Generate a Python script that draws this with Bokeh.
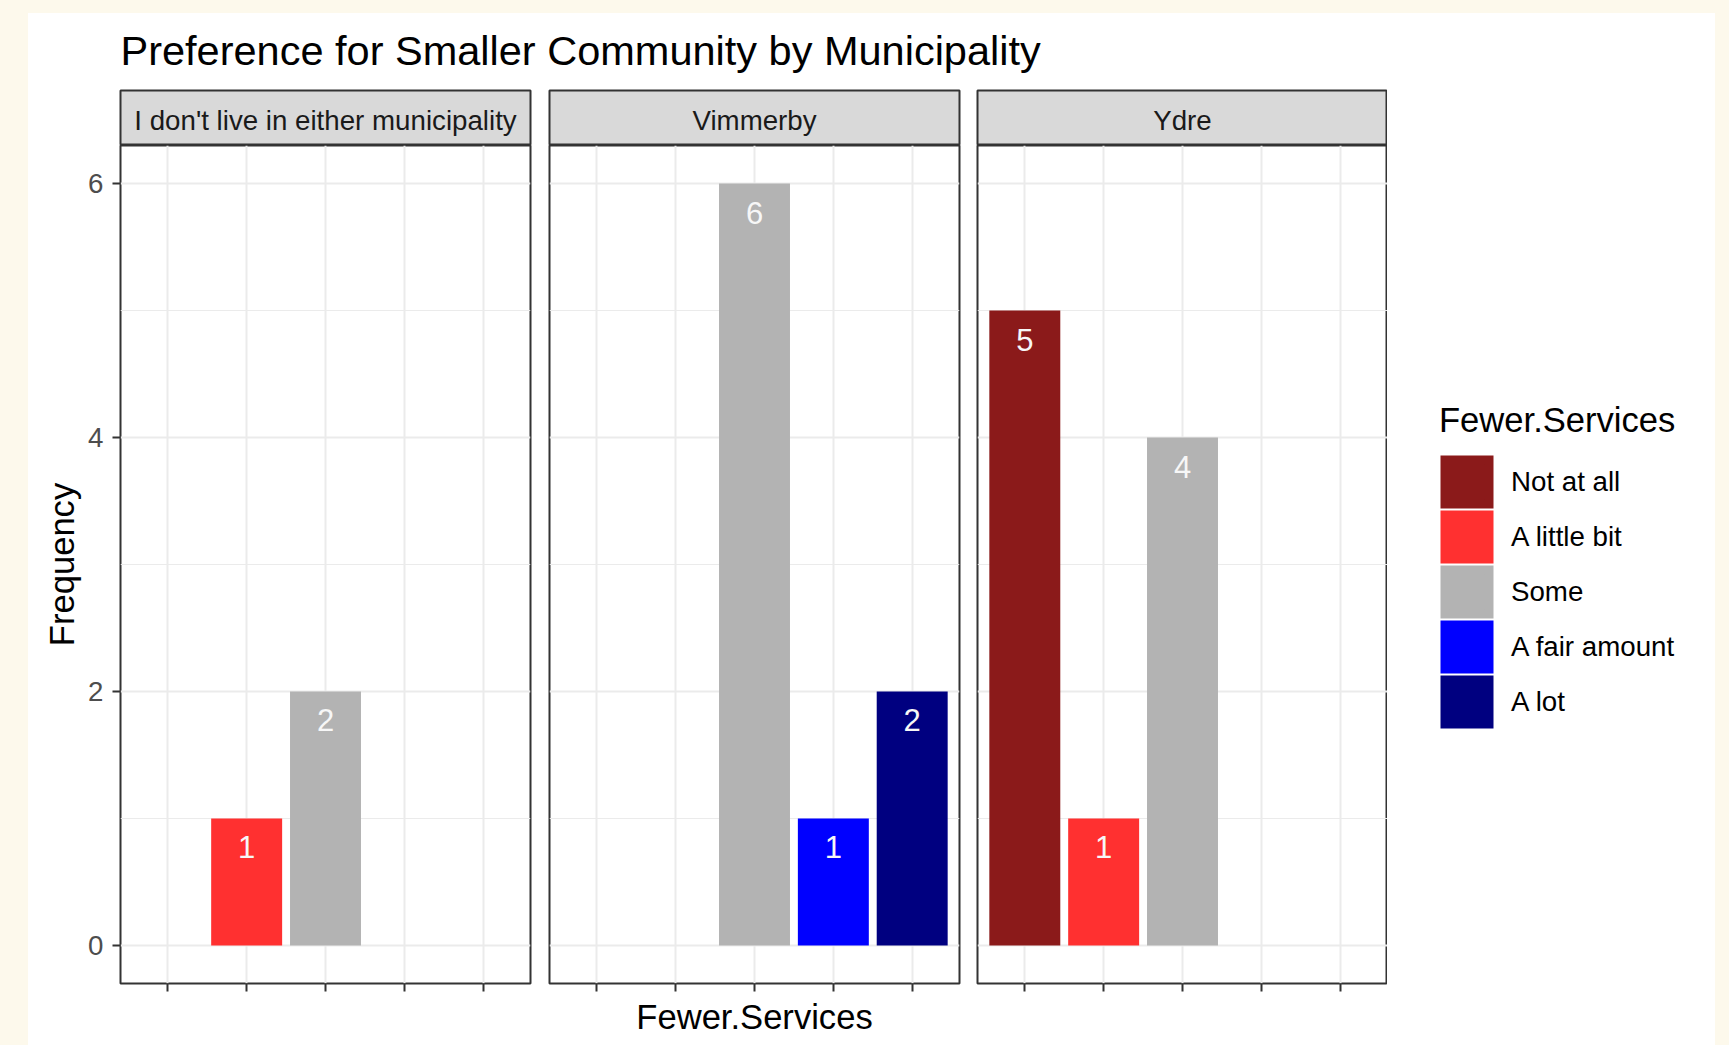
from bokeh.plotting import figure
from bokeh.models import (ColumnDataSource, Range1d, FixedTicker, Grid, Label,
                          Legend, LegendItem, Spacer)
from bokeh.layouts import row, column
from bokeh.embed import file_html
from bokeh.resources import INLINE
from bokeh.core.properties import value

# ---------------- data ----------------
categories = ["Not at all", "A little bit", "Some", "A fair amount", "A lot"]
category_colors = ["#8B1A1A", "#FF3030", "#B3B3B3", "#0000FF", "#000080"]
municipalities = ["I don't live in either municipality", "Vimmerby", "Ydre"]
counts_none = [0, 1, 2, 0, 0]
counts_vimmerby = [0, 0, 6, 1, 2]
counts_ydre = [5, 1, 4, 0, 0]
panel_counts = [counts_none, counts_vimmerby, counts_ydre]
y_ticks = [0, 2, 4, 6]
y_minor_ticks = [1, 3, 5]

title_text = "Preference for Smaller Community by Municipality"
x_title = "Fewer.Services"
y_title = "Frequency"
legend_title = "Fewer.Services"

# ---------------- style ----------------
FONT = "Liberation Sans"
CREAM = "#fdf9ec"
FRAME_W = 410
FRAME_H = 838
STRIP_H = 55
BOTTOM = 62
BORDERS = [(92, 9), (10, 9), (9, 0)]
GRID = "#ebebeb"
DARK = "#333333"


def make_strip(i):
    left, right = BORDERS[i]
    s = figure(frame_width=FRAME_W, frame_height=STRIP_H,
               min_border_left=left, min_border_right=right,
               min_border_top=1, min_border_bottom=0,
               x_range=Range1d(0, 1), y_range=Range1d(0, 1),
               x_axis_location=None, y_axis_location=None,
               toolbar_location=None, output_backend="svg")
    s.center = []
    s.background_fill_color = "#d9d9d9"
    s.border_fill_color = "white"
    s.outline_line_color = DARK
    s.outline_line_width = 2
    s.add_layout(Label(x=0.5, y=25, x_units="data", y_units="screen",
                       text=municipalities[i], text_font=FONT,
                       text_font_size="27.7px", text_color="#1a1a1a",
                       text_align="center", text_baseline="alphabetic"))
    return s


def make_panel(i):
    left, right = BORDERS[i]
    p = figure(frame_width=FRAME_W, frame_height=FRAME_H,
               min_border_left=left, min_border_right=right,
               min_border_top=0, min_border_bottom=BOTTOM,
               x_range=Range1d(0.4, len(categories) + 0.6),
               y_range=Range1d(-0.3, 6.3),
               x_axis_location="below",
               y_axis_location="left" if i == 0 else None,
               toolbar_location=None, output_backend="svg")
    p.center = []
    p.background_fill_color = "white"
    p.border_fill_color = "white"
    p.outline_line_color = DARK
    p.outline_line_width = 2

    cat_pos = list(range(1, len(categories) + 1))
    p.add_layout(Grid(dimension=0, ticker=FixedTicker(ticks=cat_pos),
                      grid_line_color=GRID, grid_line_width=2))
    p.add_layout(Grid(dimension=1,
                      ticker=FixedTicker(ticks=y_ticks, minor_ticks=y_minor_ticks),
                      grid_line_color=GRID, grid_line_width=2,
                      minor_grid_line_color=GRID, minor_grid_line_width=1))

    xa = p.xaxis[0]
    xa.ticker = FixedTicker(ticks=cat_pos)
    xa.axis_line_color = None
    xa.major_tick_line_color = DARK
    xa.major_tick_line_width = 2
    xa.major_tick_out = 8
    xa.major_tick_in = 0
    xa.minor_tick_line_color = None
    xa.major_label_text_color = None
    xa.major_label_text_font_size = "1px"
    xa.major_label_standoff = 0
    if i == 1:
        xa.axis_label = x_title
        xa.axis_label_text_font = FONT
        xa.axis_label_text_font_size = "34.6px"
        xa.axis_label_text_font_style = "normal"
        xa.axis_label_text_color = "black"
        xa.axis_label_standoff = 6

    if i == 0:
        ya = p.yaxis[0]
        ya.ticker = FixedTicker(ticks=y_ticks)
        ya.axis_line_color = None
        ya.major_tick_line_color = DARK
        ya.major_tick_line_width = 2
        ya.major_tick_out = 8
        ya.major_tick_in = 0
        ya.minor_tick_line_color = None
        ya.major_label_text_font = FONT
        ya.major_label_text_font_size = "27.7px"
        ya.major_label_text_color = "#4d4d4d"
        ya.major_label_standoff = 9
        ya.axis_label = y_title
        ya.axis_label_text_font = FONT
        ya.axis_label_text_font_size = "34.6px"
        ya.axis_label_text_font_style = "normal"
        ya.axis_label_text_color = "black"
        ya.axis_label_standoff = 4

    counts = panel_counts[i]
    idx = [j for j, c in enumerate(counts) if c > 0]
    src = ColumnDataSource(dict(
        x=[j + 1 for j in idx],
        top=[counts[j] for j in idx],
        color=[category_colors[j] for j in idx],
        label=[str(counts[j]) for j in idx],
    ))
    p.vbar(x="x", top="top", bottom=0, width=0.9, fill_color="color",
           line_color=None, source=src)
    p.text(x="x", y="top", text="label", source=src, text_align="center",
           text_baseline="middle", y_offset=29, text_color="#f7f7f7",
           text_font=value(FONT), text_font_size="31px")
    return p


cols = [column(make_strip(i), make_panel(i)) for i in range(len(municipalities))]

# legend figure (hidden per-category bars carry the legend keys)
lf = figure(width=328, height=STRIP_H + 1 + FRAME_H + BOTTOM, min_border=0,
            x_range=Range1d(0.4, len(categories) + 0.6), y_range=Range1d(0, 20),
            x_axis_location=None, y_axis_location=None,
            toolbar_location=None, output_backend="svg")
lf.center = []
lf.outline_line_color = None
lf.background_fill_color = "white"
lf.border_fill_color = "white"
totals = [sum(pc[j] for pc in panel_counts) for j in range(len(categories))]
items = []
for j, (cat, col) in enumerate(zip(categories, category_colors)):
    r = lf.vbar(x=[j + 1], top=[totals[j]], width=0.9, fill_color=col,
                line_color=col, line_width=9, line_join="miter")
    r.visible = False
    items.append(LegendItem(label=cat, renderers=[r]))
leg = Legend(items=items, location=(52, 316), title=legend_title)
leg.border_line_color = None
leg.background_fill_color = None
leg.padding = 0
leg.margin = 0
leg.spacing = 0
leg.glyph_width = 55
leg.glyph_height = 55
leg.label_standoff = 17
leg.label_text_font = FONT
leg.label_text_font_size = "27.7px"
leg.label_text_color = "black"
leg.title_text_font = FONT
leg.title_text_font_size = "34.6px"
leg.title_text_font_style = "normal"
leg.title_text_color = "black"
leg.title_standoff = 14
lf.add_layout(leg, "center")

# title figure
total_w = sum(l + FRAME_W + r for l, r in BORDERS) + 328
tf = figure(width=total_w, height=76, min_border=0,
            x_range=Range1d(0, 1), y_range=Range1d(0, 1),
            x_axis_location=None, y_axis_location=None,
            toolbar_location=None, output_backend="svg")
tf.center = []
tf.outline_line_color = None
tf.background_fill_color = "white"
tf.border_fill_color = "white"
tf.add_layout(Label(x=BORDERS[0][0], y=39, x_units="screen", y_units="screen",
                    text=title_text, text_font=FONT, text_font_size="41.5px",
                    text_color="black", text_align="left",
                    text_baseline="alphabetic"))

main = column(tf, row(*cols, lf, styles={"background-color": "white"}),
              styles={"background-color": "white"})
root = column(Spacer(width=1, height=13), row(Spacer(width=28, height=1), main))

html = file_html(root, INLINE, "Preference for Smaller Community by Municipality")
html = html.replace("</head>",
                    "<style>html,body{background:%s;overflow:hidden;}</style></head>" % CREAM, 1)
open("out.html", "w").write(html)
